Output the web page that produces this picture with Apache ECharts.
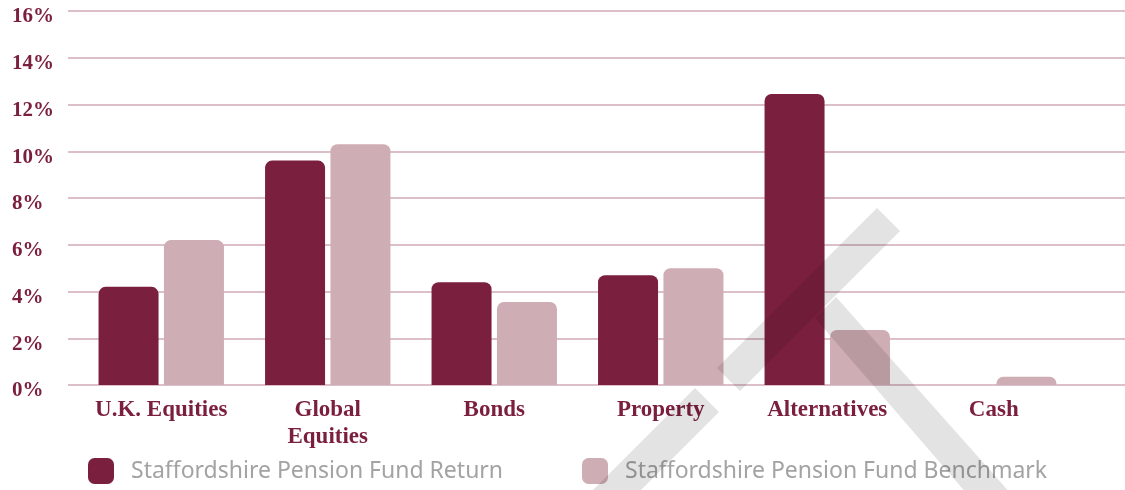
<!DOCTYPE html>
<html>
<head>
<meta charset="utf-8">
<script src="https://cdn.jsdelivr.net/npm/echarts@6/dist/echarts.min.js"></script>
<style>
  html, body { margin: 0; padding: 0; background: #fff; }
  #chart { width: 1125px; height: 490px; }
</style>
</head>
<body>
<div id="chart"></div>
<script>
// categories and values (percent)
const categories = ["U.K. Equities", "Global\nEquities", "Bonds", "Property", "Alternatives", "Cash"];
const fundReturn = [4.2, 9.6, 4.4, 4.7, 12.45, 0];
const fundBenchmark = [6.2, 10.3, 3.55, 5.0, 2.35, 0.35];
const seriesNames = ["Staffordshire Pension Fund Return", "Staffordshire Pension Fund Benchmark"];
const yMax = 16;
const yStep = 2;

const wine = "#7b1f3e";
const rose = "#cfadb4";
const gridPink = "#dcbfc8";
const labelFont = "'Liberation Serif', 'DejaVu Serif', serif";
const legendFont = "'Noto Sans', sans-serif";

const chart = echarts.init(document.getElementById("chart"), null, { renderer: "canvas" });

// grey watermark shape laid over the plot
const markFill = "#e3e3e3";
const watermark = [
  [[877, 208], [900, 231], [740, 391], [717, 368]],
  [[815, 318], [836, 297], [1012, 495], [968, 495]],
  [[695, 388], [719, 412], [636, 495], [588, 495]]
].map(points => ({
  type: "polygon",
  silent: true,
  z: 100,
  shape: { points },
  style: { fill: markFill, blend: "multiply" }
}));

function legendFor(name, left) {
  return {
    data: [name],
    left,
    top: 458,
    padding: 0,
    itemWidth: 26,
    itemHeight: 26,
    icon: "roundRect",
    textStyle: { color: "#a3a3a3", fontFamily: legendFont, fontSize: 23, padding: [0, 0, 0, 12] }
  };
}

const option = {
  animation: false,
  backgroundColor: "#fff",
  grid: [
    // split lines + y labels, full width
    { left: 68, right: 0, top: 11, bottom: 105 },
    // bars
    { left: 78, right: 48, top: 11, bottom: 105 }
  ],
  xAxis: [
    { gridIndex: 0, type: "value", show: false, min: 0, max: 1 },
    {
      gridIndex: 1,
      type: "category",
      data: categories,
      axisLine: { show: false },
      axisTick: { show: false },
      axisLabel: {
        interval: 0,
        margin: 12,
        verticalAlign: "top",
        color: wine,
        fontFamily: labelFont,
        fontWeight: "bold",
        fontSize: 23,
        lineHeight: 27
      }
    }
  ],
  yAxis: [
    {
      gridIndex: 0,
      type: "value",
      min: 0,
      max: yMax,
      interval: yStep,
      axisLine: { show: false },
      axisTick: { show: false },
      splitLine: { lineStyle: { color: gridPink, width: 2 } },
      axisLabel: {
        formatter: "{value}%",
        align: "left",
        verticalAlign: "top",
        lineHeight: 12,
        margin: 56,
        color: wine,
        fontFamily: labelFont,
        fontWeight: "bold",
        fontSize: 21
      }
    },
    { gridIndex: 1, type: "value", min: 0, max: yMax, interval: yStep, show: false }
  ],
  legend: [legendFor(seriesNames[0], 88), legendFor(seriesNames[1], 582)],
  graphic: watermark,
  series: [
    {
      name: seriesNames[0],
      type: "bar",
      xAxisIndex: 1,
      yAxisIndex: 1,
      data: fundReturn,
      barWidth: 60,
      barGap: "9%",
      itemStyle: { color: wine, borderRadius: [7, 7, 0, 0] }
    },
    {
      name: seriesNames[1],
      type: "bar",
      xAxisIndex: 1,
      yAxisIndex: 1,
      data: fundBenchmark,
      barWidth: 60,
      itemStyle: { color: rose, borderRadius: [7, 7, 0, 0] }
    }
  ]
};

chart.setOption(option);
</script>
</body>
</html>
